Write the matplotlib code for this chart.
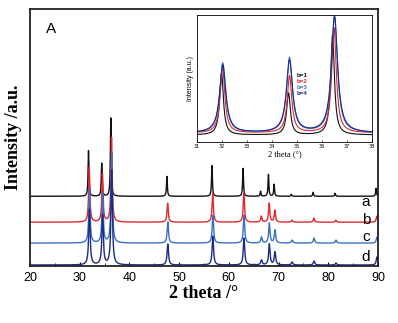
import numpy as np
import matplotlib
matplotlib.use('Agg')
import matplotlib.pyplot as plt
from matplotlib.ticker import MultipleLocator

# main pattern: ZnO reflections (2 theta) and peak heights per sample
peak_pos = [31.77, 34.42, 36.25, 47.54, 56.60, 62.86, 66.38, 67.96, 69.10, 72.56, 76.95, 81.37, 89.60]
heights_a = [46, 33, 79, 20, 31, 28, 5, 22, 12, 2, 4, 3, 8]
heights_b = [55, 48, 85, 19, 29, 29, 6, 19, 12, 2, 4, 2, 6]
heights_c = [54, 50, 91, 21, 28, 28, 6, 20, 13, 3, 5, 3, 6]
heights_d = [56, 50, 95, 21, 29, 27, 5, 21, 13, 3, 4, 2, 8]
shift = [0.0, 0.15, 0.18, 0.18]
hwhm = [0.10, 0.15, 0.16, 0.17]
offsets = [69, 43, 22, 0]
labels = ['a', 'b', 'c', 'd']
label_y = [63, 45, 28, 8]
colors = ['#111111', '#e0282e', '#3b6fc4', '#1b2a88']

# inset: zoom of the three main reflections
inset_labels = ['b=1', 'b=2', 'b=3', 'b=4']
inset_pos = [[31.98, 34.66, 36.42],
             [32.02, 34.70, 36.48],
             [32.03, 34.70, 36.50],
             [32.03, 34.70, 36.50]]
inset_h = [[62, 42, 100],
           [66, 57, 105],
           [70, 75, 117],
           [68, 72, 116]]
inset_w = [0.09, 0.11, 0.14, 0.15]
inset_base = [0, 2, 2, 2]


def profile(x, centers, amps, w):
    y = np.zeros_like(x)
    for c, a in zip(centers, amps):
        y += a / (1 + ((x - c) / w) ** 2)
    return y


fig = plt.figure(figsize=(3.98, 3.23), dpi=100)
ax = fig.add_axes([30 / 398, 1 - 266 / 323, 348 / 398, 257 / 323])

x = np.linspace(20, 90, 4001)
all_heights = [heights_a, heights_b, heights_c, heights_d]
for i in range(4):
    centers = [p + shift[i] for p in peak_pos]
    y = profile(x, centers, all_heights[i], hwhm[i]) + offsets[i]
    ax.plot(x, y, color=colors[i], lw=1.0)
    ax.text(87.6, label_y[i], labels[i], fontsize=11, family='Liberation Sans',
            ha='center', va='center')

ax.set_xlim(20, 90)
ax.set_ylim(-1, 257)
ax.xaxis.set_major_locator(MultipleLocator(10))
ax.xaxis.set_minor_locator(MultipleLocator(5))
ax.tick_params(axis='x', direction='in', labelsize=9, length=3, width=0.8, pad=4)
ax.tick_params(axis='x', which='minor', direction='in', length=2)
ax.set_yticks([])
for lab in ax.get_xticklabels():
    lab.set_family('Liberation Sans')
for s in ax.spines.values():
    s.set_linewidth(1.3)
    s.set_color('#222222')
ax.set_xlabel('2 theta /°', family='Liberation Serif', fontweight='bold', fontsize=13, labelpad=1)
ax.set_ylabel('Intensity /a.u.', family='Liberation Serif', fontweight='bold', fontsize=13, labelpad=6)
ax.text(0.045, 0.905, 'A', transform=ax.transAxes, fontsize=11, family='Liberation Sans')

# inset
ins = fig.add_axes([197 / 398, 1 - 142 / 323, 175 / 398, 127 / 323])
xi = np.linspace(31, 38, 2001)
for i in range(4):
    yi = profile(xi, inset_pos[i], inset_h[i], inset_w[i]) + inset_base[i]
    ins.plot(xi, yi, color=colors[i], lw=0.8)
ins.set_xlim(31, 38)
ins.set_ylim(-7, 120)
ins.set_yticks([])
ins.xaxis.set_major_locator(MultipleLocator(1))
ins.tick_params(axis='x', direction='in', labelsize=3.5, length=1.5, width=0.5, pad=1.5)
for s in ins.spines.values():
    s.set_linewidth(0.6)
ins.set_xlabel('2 theta (°)', family='Liberation Serif', fontsize=6, labelpad=0.5)
ins.set_ylabel('Intensity (a.u.)', family='Liberation Sans', fontsize=5, labelpad=2)
for i in range(4):
    ins.text(0.571, 0.52 - i * 0.047, inset_labels[i], transform=ins.transAxes,
             fontsize=4.5, fontweight='bold', color=colors[i], family='Liberation Sans',
             va='center')

fig.savefig('out.png', dpi=100)
